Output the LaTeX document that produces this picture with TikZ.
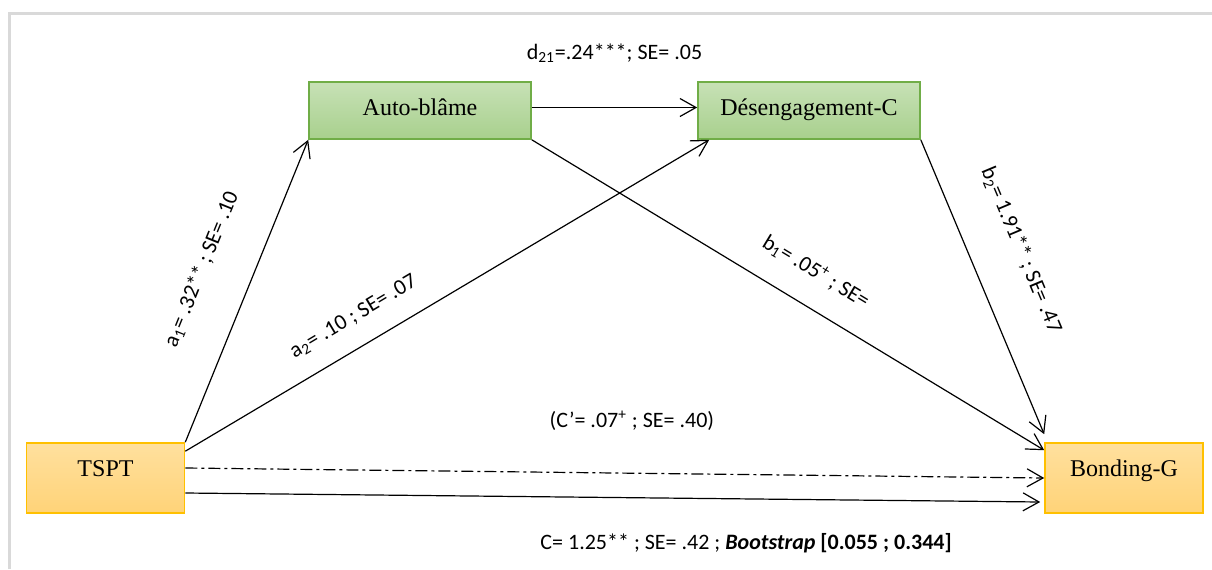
\documentclass[tikz,border=0pt]{standalone}
\usepackage{fontspec}
\setmainfont{Liberation Serif}
\newfontfamily\calibri{Carlito}
\usetikzlibrary{arrows.meta}
\definecolor{greentop}{RGB}{199,225,182}
\definecolor{greenbot}{RGB}{168,208,141}
\definecolor{greenline}{RGB}{112,173,71}
\definecolor{orangetop}{RGB}{255,224,158}
\definecolor{orangebot}{RGB}{255,211,120}
\definecolor{orangeline}{RGB}{255,192,0}
\definecolor{framegray}{RGB}{217,217,217}
\begin{document}
\begin{tikzpicture}[x=0.5pt,y=-0.5pt,
    greenbox/.style={draw=greenline, line width=0.8pt, top color=greentop, bottom color=greenbot,
      minimum width=111pt, inner sep=0pt, text height=16.5pt, text depth=12pt,
      font=\fontsize{12}{14}\selectfont},
    orangebox/.style={draw=orangeline, line width=0.8pt, top color=orangetop, bottom color=orangebot,
      minimum width=79pt, inner sep=0pt, text height=16.5pt, text depth=18.5pt,
      font=\fontsize{12}{14}\selectfont},
    link/.style={-{Straight Barb[length=8pt,width=9pt]}, line width=0.6pt},
    coef/.style={font=\calibri\fontsize{11}{13}\selectfont, inner sep=0pt}]
    \useasboundingbox (0,0) rectangle (1212,569);
    \draw[framegray, line width=1.5pt] (9.5,569) -- (9.5,13.5) -- (1212,13.5);
    % variables
    \node[greenbox]  (Auto)    at (420,110.5)  {Auto-blâme};
    \node[greenbox]  (Des)     at (809,110.5)  {Désengagement-C};
    \node[orangebox] (TSPT)    at (105.5,478)  {TSPT};
    \node[orangebox] (Bonding) at (1124,478)   {Bonding-G};
    % paths
    \draw[link] ([yshift=1.5pt]Auto.east) -- node[coef, above=22pt] {d\textsubscript{21}=.24***; SE= .05} ([yshift=1.5pt]Des.west);
    \draw[link] (TSPT.north east) -- node[coef, sloped, above=20pt, pos=0.51] {a\textsubscript{1}= .32** ; SE= .10} (Auto.south west);
    \draw[link] ([yshift=-4.5pt]TSPT.north east) -- node[coef, sloped, above=10pt, pos=0.35] {a\textsubscript{2}= .10 ; SE= .07} ([xshift=6pt]Des.south west);
    \draw[link] (Auto.south east) -- node[coef, sloped, above=12pt, pos=0.52] {b\textsubscript{1}= .05\textsuperscript{+} ; SE=} ([yshift=-4pt]Bonding.north west);
    \draw[link] (Des.south east) -- node[coef, sloped, above=20pt, pos=0.44] {b\textsubscript{2}= 1.91** ; SE= .47} ([yshift=4pt]Bonding.north west);
    \draw[link, dash pattern=on 6pt off 2pt on 1.5pt off 2pt] ([yshift=5pt]TSPT.east) -- node[coef, above=21pt, pos=0.52] {(C’= .07\textsuperscript{+} ; SE= .40)} (Bonding.west);
    \draw[link] ([yshift=-7.5pt]TSPT.east) -- node[coef, below=17pt, pos=0.656] {C= 1.25** ; SE= .42 ; \textbf{\textit{Bootstrap}} \textbf{[0.055 ; 0.344]}} ([xshift=-2pt,yshift=-12pt]Bonding.west);
\end{tikzpicture}
\end{document}
